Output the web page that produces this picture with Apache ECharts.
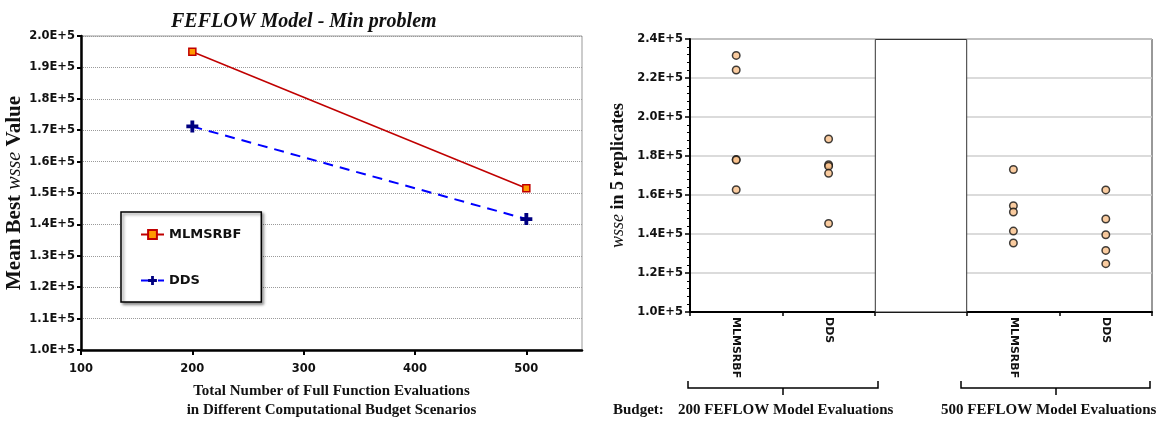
<!DOCTYPE html>
<html><head><meta charset="utf-8">
<script src="https://cdn.jsdelivr.net/npm/echarts@6/dist/echarts.min.js"></script>
<style>html,body{margin:0;padding:0;background:#fff}#c{width:1166px;height:425px}</style>
</head><body><div id="c"></div>
<script>
// ---- data ----
const budgets = [200, 500];
const mlmsrbfMean = [1.950e5, 1.515e5];
const ddsMean = [1.712e5, 1.417e5];
const leftYTicks = [1.0e5, 1.1e5, 1.2e5, 1.3e5, 1.4e5, 1.5e5, 1.6e5, 1.7e5, 1.8e5, 1.9e5, 2.0e5];
const rightCats = ['MLMSRBF', 'DDS', '', 'MLMSRBF', 'DDS'];
const mlm200 = [2.316e5, 2.241e5, 1.782e5, 1.779e5, 1.627e5];
const dds200 = [1.887e5, 1.755e5, 1.748e5, 1.711e5, 1.454e5];
const mlm500 = [1.731e5, 1.545e5, 1.513e5, 1.415e5, 1.354e5];
const dds500 = [1.626e5, 1.477e5, 1.396e5, 1.316e5, 1.248e5];
const separatorTop = [null, null, 2.4e5, null, null];

const fmt = v => (v / 1e5).toFixed(1) + 'E+5';
const sans = 'DejaVu Sans';
const serif = 'Liberation Serif';
const scatterData = [];
[[0, mlm200], [1, dds200], [3, mlm500], [4, dds500]].forEach(([ci, arr]) => arr.forEach(v => scatterData.push([ci, v])));
const plusPath = 'path://M3.4,0H6.6V3.4H10V6.6H6.6V10H3.4V6.6H0V3.4H3.4Z';

const chart = echarts.init(document.getElementById('c'));
chart.setOption({
  animation: false,
  title: {
    text: 'FEFLOW Model - Min problem', left: 166, top: 7,
    textStyle: {fontFamily: serif, fontStyle: 'italic', fontWeight: 'bold', fontSize: 20, color: '#111'}
  },
  legend: {
    data: ['MLMSRBF', 'DDS'], orient: 'vertical', left: 121, top: 212,
    padding: [16, 20, 15, 19], itemGap: 33, itemWidth: 23, itemHeight: 11,
    backgroundColor: '#fff', borderColor: '#000', borderWidth: 1.5,
    shadowColor: 'rgba(0,0,0,0.45)', shadowBlur: 3, shadowOffsetX: 2, shadowOffsetY: 2,
    textStyle: {fontFamily: sans, fontWeight: 'bold', fontSize: 13, color: '#111'}
  },
  grid: [
    {left: 81, top: 36, width: 501, height: 319, show: true, borderColor: '#999', borderWidth: 1, backgroundColor: 'transparent'},
    {left: 690, top: 39, width: 462, height: 273, show: true, borderColor: '#333', borderWidth: 1, backgroundColor: 'transparent'}
  ],
  xAxis: [
    {
      type: 'value', gridIndex: 0, min: 100, max: 550, interval: 100,
      axisLine: {show: true, lineStyle: {color: '#000', width: 2.5}},
      axisTick: {show: true, length: 5, lineStyle: {color: '#000', width: 2}},
      splitLine: {show: false},
      axisLabel: {showMaxLabel: false, margin: 13, fontFamily: sans, fontWeight: 'bold', fontSize: 11.5, color: '#111'},
      name: 'Total Number of Full Function Evaluations\nin Different Computational Budget Scenarios',
      nameLocation: 'middle', nameGap: 32,
      nameTextStyle: {fontFamily: serif, fontWeight: 'bold', fontSize: 15, lineHeight: 19, color: '#111'}
    },
    {
      type: 'category', gridIndex: 1, data: rightCats, boundaryGap: true,
      axisLine: {show: true, lineStyle: {color: '#000', width: 2}},
      axisTick: {show: true, length: 4, interval: 0, lineStyle: {color: '#000', width: 1.5}},
      axisLabel: {interval: 0, rotate: -90, margin: 5, fontFamily: sans, fontWeight: 'bold', fontSize: 11, color: '#111'},
      splitLine: {show: false}
    }
  ],
  yAxis: [
    {
      type: 'value', gridIndex: 0, min: 1.0e5, max: 2.0e5, interval: 0.1e5,
      axisLine: {show: true, lineStyle: {color: '#000', width: 2.5}},
      axisTick: {show: true, length: 4, lineStyle: {color: '#000', width: 2}},
      axisLabel: {formatter: fmt, margin: 6, fontFamily: sans, fontWeight: 'bold', fontSize: 11.5, color: '#111'},
      splitLine: {show: true, lineStyle: {color: '#9a9a9a', width: 1, type: [1, 1]}},
      name: '{a|Mean Best }{b|wsse}{a| Value}', nameLocation: 'middle', nameGap: 56,
      nameTextStyle: {rich: {
        a: {fontFamily: serif, fontWeight: 'bold', fontSize: 21, color: '#111'},
        b: {fontFamily: serif, fontStyle: 'italic', fontWeight: 'normal', fontSize: 20, color: '#111'}
      }}
    },
    {
      type: 'value', gridIndex: 1, min: 1.0e5, max: 2.4e5, interval: 0.2e5,
      axisLine: {show: true, lineStyle: {color: '#000', width: 2}},
      axisTick: {show: true, length: 5, lineStyle: {color: '#000', width: 1.5}},
      minorTick: {show: true, splitNumber: 5, length: 3, lineStyle: {color: '#000', width: 1}},
      axisLabel: {formatter: fmt, margin: 7, fontFamily: sans, fontWeight: 'bold', fontSize: 11.5, color: '#111'},
      splitLine: {show: true, lineStyle: {color: '#cfcfcf', width: 1.5}},
      name: '{b|wsse}{a| in 5 replicates}', nameLocation: 'middle', nameGap: 63,
      nameTextStyle: {rich: {
        a: {fontFamily: serif, fontWeight: 'bold', fontSize: 18, color: '#111'},
        b: {fontFamily: serif, fontStyle: 'italic', fontWeight: 'normal', fontSize: 18, color: '#111'}
      }}
    }
  ],
  series: [
    {
      name: 'MLMSRBF', type: 'line', xAxisIndex: 0, yAxisIndex: 0,
      data: budgets.map((b, i) => [b, mlmsrbfMean[i]]),
      symbol: 'rect', symbolSize: 7,
      lineStyle: {color: '#C00000', width: 1.5},
      itemStyle: {color: '#FF9A00', borderColor: '#C00000', borderWidth: 1.5}
    },
    {
      name: 'DDS', type: 'line', xAxisIndex: 0, yAxisIndex: 0,
      data: budgets.map((b, i) => [b, ddsMean[i]]),
      symbol: plusPath, symbolSize: 12,
      lineStyle: {color: '#0000FF', width: 2, type: [10, 7]},
      itemStyle: {color: '#000080', borderWidth: 0}
    },
    {
      type: 'bar', xAxisIndex: 1, yAxisIndex: 1, data: separatorTop, barWidth: '100%', silent: true, z: 1,
      itemStyle: {color: '#fff', borderColor: '#333', borderWidth: 1}
    },
    {
      type: 'scatter', xAxisIndex: 1, yAxisIndex: 1, data: scatterData, symbol: 'circle', symbolSize: 7.5, z: 3,
      itemStyle: {color: '#F9BF88', borderColor: '#111', borderWidth: 1.5}
    }
  ],
  graphic: [
    {type: 'polyline', shape: {points: [[688, 381], [688, 388], [878, 388], [878, 381]]}, style: {stroke: '#000', lineWidth: 1.5, fill: null}},
    {type: 'line', shape: {x1: 783, y1: 388, x2: 783, y2: 395}, style: {stroke: '#000', lineWidth: 1.5}},
    {type: 'polyline', shape: {points: [[961, 381], [961, 388], [1150, 388], [1150, 381]]}, style: {stroke: '#000', lineWidth: 1.5, fill: null}},
    {type: 'line', shape: {x1: 1056, y1: 388, x2: 1056, y2: 395}, style: {stroke: '#000', lineWidth: 1.5}},
    {type: 'text', left: 613, top: 403, style: {text: 'Budget:', font: 'bold 15px "Liberation Serif"', fill: '#111'}},
    {type: 'text', left: 678, top: 403, style: {text: '200 FEFLOW Model Evaluations', font: 'bold 15px "Liberation Serif"', fill: '#111'}},
    {type: 'text', left: 941, top: 403, style: {text: '500 FEFLOW Model Evaluations', font: 'bold 15px "Liberation Serif"', fill: '#111'}}
  ]
});
</script></body></html>
